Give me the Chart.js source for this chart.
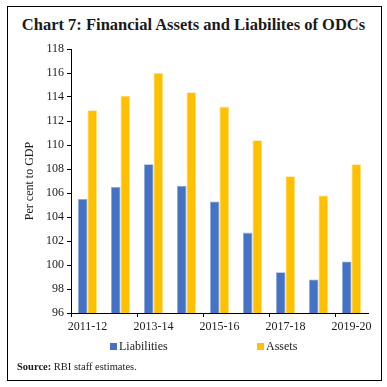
<!DOCTYPE html>
<html>
<head>
<meta charset="utf-8">
<script src="https://cdn.jsdelivr.net/npm/chart.js@4.4.0/dist/chart.umd.min.js"></script>
<style>
  body { margin: 0; background: #fff; }
  #wrap { position: relative; width: 387px; height: 387px; overflow: hidden; }
  #frame { position: absolute; left: 7px; top: 6px; width: 375px; height: 375px; border: 1px solid #000; box-sizing: border-box; }
  #title { position: absolute; left: 0; top: 15px; width: 387px; text-align: center; font: bold 16.5px/20px "Liberation Serif", serif; color: #1a1a1a; white-space: nowrap; }
  #source { position: absolute; left: 17px; top: 360px; font: 10.5px/13px "Liberation Serif", serif; color: #1a1a1a; white-space: nowrap; }
  canvas { position: absolute; left: 0; top: 0; }
</style>
</head>
<body>
<div id="wrap">
  <div id="frame"></div>
  <div id="title">Chart 7: Financial Assets and Liabilites of ODCs</div>
  <canvas id="chart" width="387" height="387"></canvas>
  <div id="source"><b>Source:</b> RBI staff estimates.</div>
</div>
<script>
const categories = ["2011-12", "2012-13", "2013-14", "2014-15", "2015-16", "2016-17", "2017-18", "2018-19", "2019-20"];
const liabilities = [105.5, 106.5, 108.4, 106.6, 105.3, 102.7, 99.4, 98.8, 100.3];
const assets = [112.9, 114.1, 116.0, 114.4, 113.2, 110.4, 107.4, 105.8, 108.4];
const yTicks = [96, 98, 100, 102, 104, 106, 108, 110, 112, 114, 116, 118];

const serif = "'Liberation Serif', serif";

// legend drawn by hand so the items can sit where the original puts them
const legendPlugin = {
  id: "bottomLegend",
  afterDraw(chart) {
    const ctx = chart.ctx;
    const xs = [110, 257];
    const y = 346.5;
    ctx.save();
    ctx.font = "12px " + serif;
    ctx.textBaseline = "middle";
    ctx.fillStyle = "#1a1a1a";
    chart.data.datasets.forEach((ds, i) => {
      ctx.fillStyle = ds.backgroundColor;
      ctx.fillRect(xs[i], y - 3.5, 7, 7);
      ctx.fillStyle = "#1a1a1a";
      ctx.fillText(ds.label, xs[i] + 9, y);
    });
    ctx.restore();
  }
};

new Chart(document.getElementById("chart"), {
  type: "bar",
  data: {
    labels: categories,
    datasets: [
      {
        label: "Liabilities",
        data: liabilities,
        backgroundColor: "#4472C4",
        borderColor: "#8FAADC",
        borderWidth: 0.8,
        categoryPercentage: 0.58,
        barPercentage: 1.0,
      },
      {
        label: "Assets",
        data: assets,
        backgroundColor: "#FFC000",
        borderColor: "#FFE08A",
        borderWidth: 0.8,
        categoryPercentage: 0.58,
        barPercentage: 1.0,
      },
    ],
  },
  options: {
    responsive: false,
    animation: false,
    devicePixelRatio: 1,
    layout: { padding: { left: 19, right: 19, top: 49, bottom: 0 } },
    plugins: { legend: { display: false }, tooltip: { enabled: false } },
    scales: {
      x: {
        grid: {
          offset: true,
          drawOnChartArea: false,
          tickLength: 4,
          color: (c) => (c.index % 2 === 0 || c.index === categories.length ? "#000" : "rgba(0,0,0,0)"),
        },
        border: { color: "#000", width: 1 },
        ticks: {
          autoSkip: false,
          maxRotation: 0,
          padding: 3,
          color: "#1a1a1a",
          font: { family: serif, size: 12 },
          callback: (v, i) => (i % 2 === 0 ? categories[i] : ""),
        },
        afterFit: (s) => { s.height = 74; },
      },
      y: {
        min: 96,
        max: 118,
        afterBuildTicks: (s) => { s.ticks = yTicks.map((v) => ({ value: v })); },
        grid: { drawOnChartArea: false, tickLength: 4, color: "#000" },
        border: { color: "#000", width: 1 },
        ticks: { padding: 3, color: "#1a1a1a", font: { family: serif, size: 12 } },
        title: {
          display: true,
          text: "Per cent to GDP",
          color: "#1a1a1a",
          font: { family: serif, size: 12 },
          padding: { top: 4, bottom: 0 },
        },
        afterFit: (s) => { s.width = 52; },
      },
    },
  },
  plugins: [legendPlugin],
});
</script>
</body>
</html>
